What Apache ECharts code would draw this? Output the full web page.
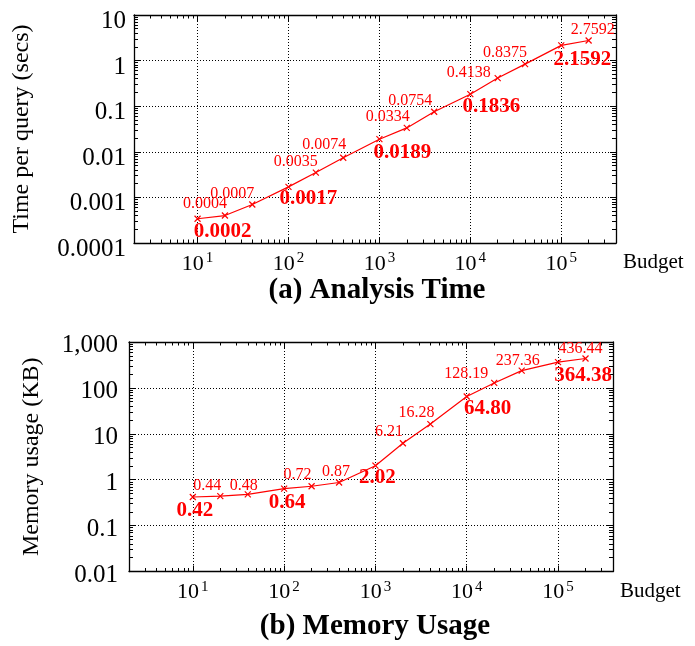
<!DOCTYPE html>
<html><head><meta charset="utf-8">
<script src="https://cdn.jsdelivr.net/npm/echarts@6/dist/echarts.min.js"></script>
<style>html,body{margin:0;padding:0;background:#fff}#c{width:695px;height:646px}</style>
</head><body><div id="c"></div>
<script>
// ---------- data ----------
const budgets = [10, 20, 40, 100, 200, 400, 1000, 2000, 4000, 10000, 20000, 40000, 100000, 200000];
const timeValues = [0.00034, 0.0004, 0.0007, 0.0017, 0.0035, 0.0074, 0.0189, 0.0334, 0.0754, 0.1836, 0.4138, 0.8375, 2.1592, 2.7592];
const timeLabels = ['0.0002', '0.0004', '0.0007', '0.0017', '0.0035', '0.0074', '0.0189', '0.0334', '0.0754', '0.1836', '0.4138', '0.8375', '2.1592', '2.7592'];
const memoryValues = [0.42, 0.44, 0.48, 0.64, 0.72, 0.87, 2.02, 6.21, 16.28, 64.80, 128.19, 237.36, 364.38, 436.44];
const memoryLabels = ['0.42', '0.44', '0.48', '0.64', '0.72', '0.87', '2.02', '6.21', '16.28', '64.80', '128.19', '237.36', '364.38', '436.44'];
const xTickExponents = [1, 2, 3, 4, 5];
const timeTickLabels = ['0.0001', '0.001', '0.01', '0.1', '1', '10'];
const memoryTickLabels = ['0.01', '0.1', '1', '10', '100', '1,000'];

// ---------- layout (label offsets in px, relative to the point) ----------
const timeLabelOffsets = [[25,13],[-20,-12],[-20,-11],[20,12],[-20,-11],[-19,-13],[23,13],[-19,-11],[-24,-11],[21,12],[-29,-5],[-20,-11],[21,14],[4,-11]];
const memoryLabelOffsets = [[2,14],[-13,-10],[-4,-9],[3,14],[-14,-11],[-3,-11],[2,12],[-14,-12],[-14,-11],[21,12],[-28,-9],[-4,-10],[25,13],[-5,-10]];

const FONT = 'Liberation Serif';
const log10 = Math.log10;
const X_MIN = log10(2), X_MAX = log10(400000);

function minors(lo, hi) {
  const out = [];
  for (let d = Math.floor(lo) - 1; d <= Math.ceil(hi); d++) {
    for (let k = 2; k <= 9; k++) {
      const v = log10(k) + d;
      if (v > lo + 1e-6 && v < hi - 1e-6) out.push(v);
    }
  }
  return out;
}
const xMajors = xTickExponents.slice();
const xMinors = minors(X_MIN, X_MAX);

const borderLine = { show: true, onZero: false, lineStyle: { color: '#000', width: 1.3 } };
const gridLine = { show: true, lineStyle: { type: [1, 2], color: '#000', width: 1 } };

function makeX(g) {
  const c = { type: 'value', gridIndex: g, min: X_MIN, max: X_MAX,
    axisLine: { show: false, onZero: false }, axisLabel: { show: false },
    splitLine: { show: false }, axisTick: { show: false } };
  return [
    Object.assign({}, c, {
      position: 'bottom', axisLine: borderLine,
      axisTick: { show: true, inside: true, length: 6, customValues: xMajors, lineStyle: { color: '#000', width: 1 } },
      axisLabel: { show: true, customValues: xMajors, margin: 8,
        formatter: v => '{b|10}{s|' + Math.round(v) + '}',
        rich: {
          b: { fontFamily: FONT, fontSize: 22, color: '#000', lineHeight: 24, verticalAlign: 'bottom' },
          s: { fontFamily: FONT, fontSize: 15, color: '#000', lineHeight: 15, verticalAlign: 'top', padding: [0, 0, 0, 2] }
        } },
      splitLine: gridLine,
      name: 'Budget', nameLocation: 'end', nameGap: 7,
      nameTextStyle: { fontFamily: FONT, fontSize: 21, color: '#000', verticalAlign: 'top', lineHeight: 21, padding: [9, 0, 0, 0] }
    }),
    Object.assign({}, c, { position: 'top', axisLine: borderLine,
      axisTick: { show: true, inside: true, length: 6, customValues: xMajors, lineStyle: { color: '#000', width: 1 } } }),
    Object.assign({}, c, { position: 'bottom',
      axisTick: { show: true, inside: true, length: 3.5, customValues: xMinors, lineStyle: { color: '#000', width: 1 } } }),
    Object.assign({}, c, { position: 'top',
      axisTick: { show: true, inside: true, length: 3.5, customValues: xMinors, lineStyle: { color: '#000', width: 1 } } })
  ];
}

function makeY(g, lo, hi, tickLabels, name, nameGap, labelMargin, labelPad) {
  const majors = [], labelVals = [];
  for (let e = lo; e <= hi; e++) { labelVals.push(e); if (e > lo && e < hi) majors.push(e); }
  const mins = minors(lo, hi);
  const c = { type: 'value', gridIndex: g, min: lo, max: hi,
    axisLine: { show: false, onZero: false }, axisLabel: { show: false },
    splitLine: { show: false }, axisTick: { show: false } };
  return [
    Object.assign({}, c, {
      position: 'left', axisLine: borderLine,
      axisTick: { show: true, inside: true, length: 6, customValues: majors, lineStyle: { color: '#000', width: 1 } },
      axisLabel: { show: true, customValues: labelVals, margin: labelMargin,
        formatter: v => '{t|' + tickLabels[Math.round(v) - lo] + '}',
        rich: { t: { fontFamily: FONT, fontSize: 25, color: '#000', lineHeight: 25, padding: [labelPad, 0, 0, 0] } } },
      splitLine: gridLine,
      name: name, nameLocation: 'middle', nameGap: nameGap, nameRotate: 90,
      nameTextStyle: { fontFamily: FONT, fontSize: 24, color: '#000' }
    }),
    Object.assign({}, c, { position: 'right', axisLine: borderLine,
      axisTick: { show: true, inside: true, length: 6, customValues: majors, lineStyle: { color: '#000', width: 1 } } }),
    Object.assign({}, c, { position: 'left',
      axisTick: { show: true, inside: true, length: 4, customValues: mins, lineStyle: { color: '#000', width: 1 } } }),
    Object.assign({}, c, { position: 'right',
      axisTick: { show: true, inside: true, length: 4, customValues: mins, lineStyle: { color: '#000', width: 1 } } })
  ];
}

function isDecade(b) { const l = log10(b); return Math.abs(l - Math.round(l)) < 1e-9; }

function makeSeries(g, values, texts, offsets) {
  return {
    type: 'line', xAxisIndex: g * 4, yAxisIndex: g * 4,
    data: budgets.map((b, i) => {
      const bold = isDecade(b);
      return {
        value: [log10(b), log10(values[i])],
        label: { show: true, position: 'inside', offset: offsets[i], formatter: texts[i],
          color: '#ff0000', fontFamily: FONT, fontSize: bold ? 21 : 16, fontWeight: bold ? 'bold' : 'normal' }
      };
    }),
    symbol: 'path://M0,0L10,10M10,0L0,10', symbolSize: 6, showAllSymbol: true,
    lineStyle: { color: '#ff0000', width: 1.2 },
    itemStyle: { color: '#ff0000', borderColor: '#ff0000', borderWidth: 1.2 },
    emphasis: { disabled: true }, z: 5
  };
}

const chart = echarts.init(document.getElementById('c'), null, { renderer: 'canvas' });
chart.setOption({
  animation: false,
  backgroundColor: '#fff',
  grid: [
    { left: 134, top: 15, width: 482, height: 228, outerBoundsMode: 'none', containLabel: false },
    { left: 129, top: 342, width: 484, height: 229.5, outerBoundsMode: 'none', containLabel: false }
  ],
  xAxis: makeX(0).concat(makeX(1)),
  yAxis: makeY(0, -4, 1, timeTickLabels, 'Time per query (secs)', 100, 8, 13)
    .concat(makeY(1, -2, 3, memoryTickLabels, 'Memory usage (KB)', 85, 11, 7)),
  series: [
    makeSeries(0, timeValues, timeLabels, timeLabelOffsets),
    makeSeries(1, memoryValues, memoryLabels, memoryLabelOffsets)
  ],
  graphic: [
    { type: 'text', x: 377, y: 291, style: { text: '(a) Analysis Time', fontFamily: FONT, fontSize: 29, fontWeight: 'bold', fill: '#000', align: 'center', verticalAlign: 'middle' } },
    { type: 'text', x: 375, y: 627, style: { text: '(b) Memory Usage', fontFamily: FONT, fontSize: 29, fontWeight: 'bold', fill: '#000', align: 'center', verticalAlign: 'middle' } }
  ]
});
</script>
</body></html>
